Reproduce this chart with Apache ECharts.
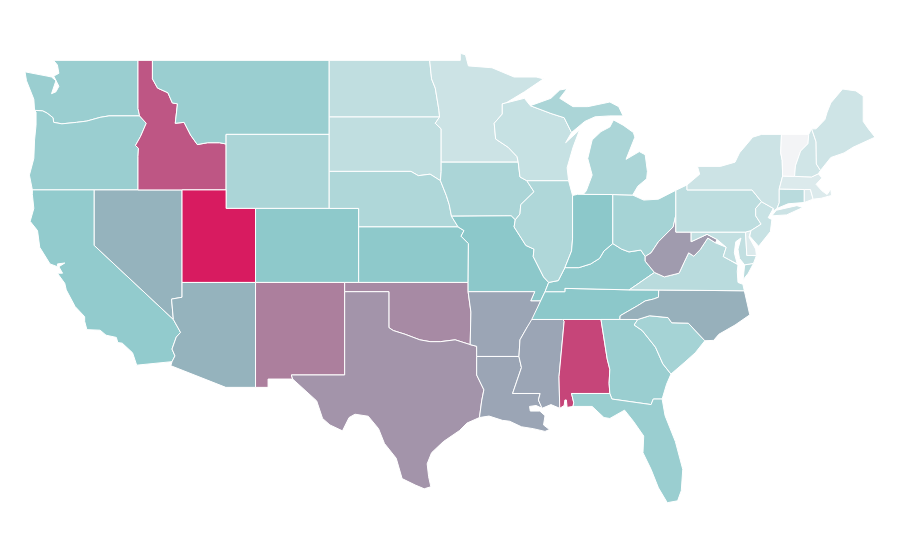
<!DOCTYPE html>
<html>
<head>
<meta charset="utf-8">
<style>html,body{margin:0;background:#fff}#main{width:900px;height:560px}</style>
<script src="https://cdn.jsdelivr.net/npm/echarts@6/dist/echarts.min.js"></script>
</head>
<body>
<div id="main"></div>
<script>
// state shapes are lon/lat outlines, hand simplified
var stateShapes = {
 Washington:[[[-117.03,49],[-122.76,49],[-122.5,48.75],[-122.4,48.3],[-122.75,48.15],[-122.4,47.6],[-122.6,47.3],[-122.9,47.2],[-122.6,47.9],[-122.9,48.1],[-123.2,48.15],[-124.7,48.38],[-124.6,47.9],[-124.1,46.9],[-124.05,46.3],[-123.5,46.27],[-123.2,46.15],[-122.8,45.9],[-122.75,45.65],[-122.2,45.57],[-121.2,45.65],[-120.5,45.72],[-119.6,45.92],[-119,46],[-116.92,46],[-117.03,46.4]]],
 Oregon:[[[-124.05,46.3],[-123.5,46.27],[-123.2,46.15],[-122.8,45.9],[-122.75,45.65],[-122.2,45.57],[-121.2,45.65],[-120.5,45.72],[-119.6,45.92],[-119,46],[-116.92,46],[-116.47,45.6],[-116.85,44.9],[-117.2,44.4],[-117,44.25],[-117.03,43.8],[-117.03,42],[-124.2,42],[-124.4,42.8],[-124.1,43.7],[-124.05,44.7],[-123.95,45.5],[-123.95,46.2]]],
 California:[[[-124.2,42],[-120,42],[-120,39],[-114.63,35],[-114.14,34.3],[-114.43,34.05],[-114.72,33.4],[-114.52,33.03],[-114.72,32.72],[-117.12,32.53],[-117.25,32.85],[-117.4,33.2],[-118.1,33.72],[-118.4,33.75],[-118.5,34.03],[-119.2,34.15],[-119.6,34.42],[-120.5,34.45],[-120.65,34.9],[-120.65,35.15],[-121.3,35.7],[-121.9,36.6],[-122,36.95],[-122.5,37.5],[-122.15,37.5],[-122.4,37.85],[-122,38.05],[-122.5,38],[-122.5,37.85],[-123,38],[-123.7,38.9],[-123.85,39.8],[-124.35,40.3],[-124.1,41],[-124.2,41.75]]],
 Nevada:[[[-120,42],[-114.04,42],[-114.04,36.2],[-114.75,36.1],[-114.63,35],[-120,39]]],
 Idaho:[[[-117.03,49],[-116.05,49],[-116.05,48],[-115.7,47.5],[-115,47.25],[-114.7,46.7],[-114.35,46.65],[-114.5,45.6],[-113.9,45.65],[-113.45,44.95],[-113,44.45],[-112.3,44.55],[-111.5,44.55],[-111.05,44.48],[-111.05,42],[-114.04,42],[-117.03,42],[-117.03,43.8],[-117,44.25],[-117.2,44.4],[-116.85,44.9],[-116.47,45.6],[-116.92,46],[-117.03,46.4]]],
 Montana:[[[-116.05,49],[-104.05,49],[-104.05,45],[-111.05,45],[-111.05,44.48],[-111.5,44.55],[-112.3,44.55],[-113,44.45],[-113.45,44.95],[-113.9,45.65],[-114.5,45.6],[-114.35,46.65],[-114.7,46.7],[-115,47.25],[-115.7,47.5],[-116.05,48]]],
 Wyoming:[[[-111.05,45],[-104.05,45],[-104.05,41],[-111.05,41]]],
 Utah:[[[-114.04,42],[-111.05,42],[-111.05,41],[-109.05,41],[-109.05,37],[-114.04,37]]],
 Arizona:[[[-114.04,37],[-109.05,37],[-109.05,31.33],[-111.07,31.33],[-114.8,32.5],[-114.72,32.72],[-114.52,33.03],[-114.72,33.4],[-114.43,34.05],[-114.14,34.3],[-114.63,35],[-114.75,36.1],[-114.04,36.2]]],
 Colorado:[[[-109.05,41],[-102.05,41],[-102.05,37],[-109.05,37]]],
 "New Mexico":[[[-109.05,37],[-103,37],[-103,32],[-106.62,32],[-106.53,31.78],[-108.2,31.78],[-108.2,31.33],[-109.05,31.33]]],
 "North Dakota":[[[-104.05,49],[-97.23,49],[-97.1,48],[-96.85,47.5],[-96.6,46.3],[-96.56,45.94],[-104.05,45.94]]],
 "South Dakota":[[[-104.05,45.94],[-96.56,45.94],[-96.85,45.6],[-96.45,45.3],[-96.45,43.5],[-96.45,43],[-96.5,42.5],[-97.2,42.85],[-98,42.77],[-98.5,43],[-104.05,43]]],
 Nebraska:[[[-104.05,43],[-98.5,43],[-98,42.77],[-97.2,42.85],[-96.5,42.5],[-96.1,41.7],[-95.9,41.2],[-95.75,40.58],[-95.3,40],[-102.05,40],[-102.05,41],[-104.05,41]]],
 Kansas:[[[-102.05,40],[-95.3,40],[-94.9,39.8],[-95.1,39.5],[-94.6,39.1],[-94.62,37],[-102.05,37]]],
 Oklahoma:[[[-103,37],[-94.62,37],[-94.62,36.5],[-94.43,35.4],[-94.48,33.64],[-95.5,33.9],[-96.5,33.8],[-97.2,33.8],[-97.9,33.9],[-98.9,34.2],[-99.7,34.4],[-100,34.56],[-100,36.5],[-103,36.5]]],
 Texas:[[[-106.62,32],[-103,32],[-103,36.5],[-100,36.5],[-100,34.56],[-99.7,34.4],[-98.9,34.2],[-97.9,33.9],[-97.2,33.8],[-96.5,33.8],[-95.5,33.9],[-94.48,33.64],[-94.04,33.55],[-94.04,33],[-94.04,32],[-93.55,31.2],[-93.7,30.6],[-93.85,29.7],[-94.7,29.4],[-95.2,29],[-96.3,28.4],[-97.1,27.8],[-97.4,27.2],[-97.3,26.5],[-97.15,25.96],[-97.6,25.85],[-98.2,26.05],[-99.1,26.4],[-99.5,27.5],[-100.3,28.3],[-100.7,29.1],[-101.4,29.77],[-102.3,29.88],[-102.7,29.7],[-103.15,28.98],[-104,29.3],[-104.5,29.65],[-104.9,30.6],[-106.53,31.78]]],
 Minnesota:[[[-97.23,49],[-95.15,49],[-95.15,49.38],[-94.8,49.3],[-94.6,48.7],[-93,48.6],[-91.5,48.1],[-90,48.1],[-89.5,48],[-90.8,47.3],[-92.05,46.7],[-92.3,46.65],[-92.3,46.1],[-92.85,45.6],[-92.75,44.75],[-91.9,44.3],[-91.3,43.8],[-91.22,43.5],[-96.45,43.5],[-96.45,45.3],[-96.85,45.6],[-96.56,45.94],[-96.6,46.3],[-96.85,47.5],[-97.1,48]]],
 Iowa:[[[-96.45,43.5],[-91.22,43.5],[-91.1,42.7],[-90.64,42.5],[-90.15,41.9],[-91.05,41.2],[-91.1,40.7],[-91.42,40.38],[-91.7,40.6],[-95.75,40.58],[-95.9,41.2],[-96.1,41.7],[-96.5,42.5],[-96.45,43]]],
 Missouri:[[[-95.75,40.58],[-91.7,40.6],[-91.42,40.38],[-91.5,40],[-90.7,39],[-90.15,38.8],[-90.2,38.4],[-89.5,37.3],[-89.15,37],[-89.4,36.5],[-89.7,36],[-90.37,36],[-90.1,36.5],[-94.62,36.5],[-94.62,37],[-94.6,39.1],[-95.1,39.5],[-94.9,39.8],[-95.3,40]]],
 Arkansas:[[[-94.62,36.5],[-90.1,36.5],[-90.37,36],[-89.7,36],[-90.1,35.1],[-90.6,34.6],[-91.1,33.9],[-91.17,33],[-94.04,33],[-94.04,33.55],[-94.48,33.64],[-94.43,35.4]]],
 Louisiana:[[[-94.04,33],[-91.17,33],[-91,32.4],[-91.6,31],[-89.73,31],[-89.85,30.65],[-89.6,30.2],[-90,30.35],[-90.45,30.3],[-90.4,30.05],[-89.75,30.05],[-89.4,29.8],[-89.5,29.3],[-89.1,29.05],[-89.4,28.95],[-90.2,29.1],[-91,29.2],[-91.8,29.5],[-92.3,29.55],[-93.2,29.78],[-93.85,29.7],[-93.7,30.6],[-93.55,31.2],[-94.04,32]]],
 Mississippi:[[[-91.17,33],[-91.1,33.9],[-90.6,34.6],[-90.3,35],[-88.2,35],[-88.1,34.9],[-88.45,31.9],[-88.4,30.2],[-89,30.4],[-89.6,30.2],[-89.85,30.65],[-89.73,31],[-91.6,31],[-91,32.4]]],
 Alabama:[[[-88.2,35],[-85.6,35],[-85.18,32.87],[-85,32.3],[-85.05,31.55],[-85,31],[-87.6,31],[-87.45,30.5],[-87.5,30.3],[-87.9,30.25],[-87.95,30.65],[-88.05,30.65],[-88.1,30.35],[-88.4,30.2],[-88.45,31.9],[-88.1,34.9]]],
 Tennessee:[[[-90.3,35],[-89.7,36],[-89.4,36.5],[-88.05,36.5],[-88.05,36.68],[-83.68,36.6],[-81.68,36.59],[-81.7,36.2],[-82.05,36.1],[-82.6,36],[-83.1,35.75],[-84.3,35.2],[-84.32,35],[-88.2,35]]],
 Kentucky:[[[-89.4,36.5],[-89.15,37],[-88.5,37.1],[-88.05,37.8],[-87.1,37.8],[-86.3,38],[-85.7,38.3],[-85.4,38.7],[-84.8,39.1],[-84.2,38.8],[-83.7,38.65],[-82.9,38.75],[-82.6,38.4],[-82.6,38.15],[-81.97,37.54],[-83.68,36.6],[-88.05,36.68],[-88.05,36.5]]],
 Illinois:[[[-91.42,40.38],[-91.1,40.7],[-91.05,41.2],[-90.15,41.9],[-90.64,42.5],[-87.8,42.5],[-87.53,41.7],[-87.53,39.35],[-87.6,38.7],[-88.05,37.8],[-88.5,37.1],[-89.15,37],[-89.5,37.3],[-90.2,38.4],[-90.15,38.8],[-90.7,39],[-91.5,40]]],
 Indiana:[[[-87.53,41.7],[-87.2,41.76],[-86.8,41.76],[-84.8,41.75],[-84.8,39.1],[-85.4,38.7],[-85.7,38.3],[-86.3,38],[-87.1,37.8],[-88.05,37.8],[-87.6,38.7],[-87.53,39.35]]],
 Ohio:[[[-84.8,41.75],[-83.45,41.72],[-82.7,41.45],[-81.7,41.5],[-80.52,41.98],[-80.52,40.64],[-80.7,40],[-81.7,39.2],[-82.2,38.6],[-82.6,38.4],[-82.9,38.75],[-83.7,38.65],[-84.2,38.8],[-84.8,39.1]]],
 Wisconsin:[[[-92.05,46.7],[-90.8,46.95],[-90.4,46.55],[-89,46.13],[-88.1,45.9],[-87.6,45.1],[-88,44.55],[-87.05,45.25],[-87.5,44.3],[-87.9,43.2],[-87.8,42.5],[-90.64,42.5],[-91.1,42.7],[-91.22,43.5],[-91.3,43.8],[-91.9,44.3],[-92.75,44.75],[-92.85,45.6],[-92.3,46.1],[-92.3,46.65]]],
 Michigan:[[[-86.8,41.76],[-84.8,41.75],[-83.45,41.72],[-83.1,42.2],[-82.5,42.6],[-82.45,43],[-82.6,43.9],[-83,44.07],[-83.9,43.65],[-83.3,44.85],[-83.4,45.1],[-84.1,45.5],[-84.75,45.78],[-85,45.4],[-85.6,45.15],[-86.2,44.7],[-86.5,43.7],[-86.2,42.8],[-86.6,41.95]],[[-90.4,46.55],[-89,46.95],[-88.4,47.4],[-87.9,47.47],[-88.4,46.95],[-87.5,46.5],[-86.5,46.5],[-85,46.75],[-84.4,46.5],[-84.1,46],[-85,46],[-86,45.95],[-86.7,45.7],[-87.6,45.1],[-88.1,45.9],[-89,46.13]]],
 Georgia:[[[-85.6,35],[-84.32,35],[-83.1,35],[-83.35,34.7],[-82.8,34.4],[-81.9,33.5],[-81.4,32.6],[-80.85,32.05],[-81.15,31.5],[-81.45,30.7],[-82.05,30.7],[-82.2,30.4],[-84.86,30.7],[-85,31],[-85.05,31.55],[-85,32.3],[-85.18,32.87]]],
 Florida:[[[-87.6,31],[-85,31],[-84.86,30.7],[-82.2,30.4],[-82.05,30.7],[-81.45,30.7],[-81.25,29.8],[-80.55,28.4],[-80.05,26.9],[-80.15,25.75],[-80.4,25.2],[-81.1,25.1],[-81.7,25.9],[-82.2,26.9],[-82.75,27.8],[-82.7,28.7],[-83.4,29.5],[-84,30.1],[-85,29.65],[-85.4,29.7],[-86.2,30.3],[-87.5,30.3],[-87.45,30.5]]],
 "South Carolina":[[[-83.1,35],[-82.3,35.2],[-81.05,35.1],[-80.8,34.82],[-79.67,34.8],[-78.55,33.85],[-79.2,33.2],[-79.9,32.7],[-80.85,32.05],[-81.4,32.6],[-81.9,33.5],[-82.8,34.4],[-83.35,34.7]]],
 "North Carolina":[[[-84.32,35],[-84.3,35.2],[-83.1,35.75],[-82.6,36],[-82.05,36.1],[-81.7,36.2],[-81.68,36.59],[-75.87,36.55],[-75.5,35.25],[-76.5,34.7],[-77.6,34.2],[-77.95,33.87],[-78.55,33.85],[-79.67,34.8],[-80.8,34.82],[-81.05,35.1],[-82.3,35.2],[-83.1,35]]],
 Virginia:[[[-83.68,36.6],[-81.97,37.54],[-81.3,37.3],[-80.3,37.5],[-79.95,38.1],[-79.65,38.6],[-79.3,38.42],[-78.87,38.77],[-78.35,39.4],[-77.83,39.14],[-77.1,38.9],[-77.3,38.4],[-76.95,38.25],[-76.3,37.95],[-76.35,37.6],[-76.3,37],[-75.97,36.9],[-75.87,36.55],[-81.68,36.59]],[[-75.95,37.15],[-75.85,37.95],[-75.25,38.03],[-75.6,37.5]]],
 "West Virginia":[[[-82.6,38.15],[-82.6,38.4],[-82.2,38.6],[-81.7,39.2],[-80.7,40],[-80.52,40.64],[-80.52,39.72],[-79.48,39.72],[-79.48,39.2],[-78.4,39.6],[-77.72,39.32],[-77.83,39.14],[-78.35,39.4],[-78.87,38.77],[-79.3,38.42],[-79.65,38.6],[-79.95,38.1],[-80.3,37.5],[-81.3,37.3],[-81.97,37.54]]],
 Maryland:[[[-79.48,39.72],[-75.79,39.72],[-75.7,38.46],[-75.05,38.45],[-75.25,38.03],[-75.85,37.95],[-76.2,38.3],[-76.3,38.8],[-76.1,39.4],[-76.45,39.2],[-76.55,38.6],[-76.35,38],[-76.95,38.25],[-77.3,38.4],[-77.1,38.9],[-77.72,39.32],[-78.4,39.6],[-79.48,39.2]]],
 Delaware:[[[-75.79,39.72],[-75.42,39.8],[-75.55,39.45],[-75.1,38.8],[-75.05,38.45],[-75.7,38.46]]],
 Pennsylvania:[[[-80.52,41.98],[-79.76,42.27],[-79.76,42],[-75.35,42],[-74.7,41.36],[-75.1,41],[-75.1,40.6],[-74.73,40.15],[-75.42,39.8],[-75.79,39.72],[-80.52,39.72]]],
 "New Jersey":[[[-74.7,41.36],[-73.9,41],[-74.25,40.5],[-74,40.4],[-74.1,39.75],[-74.9,38.95],[-75.5,39.5],[-75.42,39.8],[-74.73,40.15],[-75.1,40.6],[-75.1,41]]],
 "New York":[[[-79.76,42],[-79.76,42.27],[-78.9,42.85],[-79.05,43.27],[-77.5,43.27],[-76.5,43.5],[-76.2,44],[-75.3,44.85],[-74.7,45],[-73.35,45],[-73.4,44],[-73.3,43.6],[-73.27,42.75],[-73.5,42.05],[-73.5,41.3],[-73.65,41],[-73.9,40.85],[-73.9,41],[-74.7,41.36],[-75.35,42]],[[-74,40.6],[-73.7,40.9],[-72.3,41.15],[-71.9,41.05],[-73,40.65]]],
 Connecticut:[[[-73.5,42.05],[-71.8,42.02],[-71.8,41.32],[-72.9,41.25],[-73.65,41],[-73.5,41.3]]],
 "Rhode Island":[[[-71.8,42.02],[-71.38,42.02],[-71.2,41.5],[-71.8,41.32]]],
 Massachusetts:[[[-73.5,42.05],[-73.27,42.75],[-72.46,42.73],[-71.3,42.7],[-70.85,42.87],[-70.6,42.65],[-71,42.3],[-70.6,41.95],[-70.25,41.75],[-70,42.05],[-69.95,41.7],[-70.65,41.55],[-71.2,41.5],[-71.38,42.02],[-71.8,42.02]]],
 Vermont:[[[-73.35,45],[-71.5,45],[-71.55,44.5],[-72.05,44.1],[-72.4,43.3],[-72.46,42.73],[-73.27,42.75],[-73.3,43.6],[-73.4,44]]],
 "New Hampshire":[[[-71.5,45],[-71.3,45.3],[-71,44.6],[-70.98,43.4],[-70.7,43.05],[-70.85,42.87],[-71.3,42.7],[-72.46,42.73],[-72.4,43.3],[-72.05,44.1],[-71.55,44.5]]],
 Maine:[[[-71.3,45.3],[-71,45.3],[-70.4,45.8],[-70.25,46.2],[-70,46.7],[-69.2,47.45],[-68.3,47.35],[-67.8,47.07],[-67.8,45.7],[-67.45,45.3],[-67,44.85],[-68.5,44.3],[-69.1,44],[-70,43.75],[-70.7,43.05],[-70.98,43.4],[-71,44.6]]]
};

var stateNames = ["Washington","Oregon","California","Nevada","Idaho","Montana","Wyoming","Utah","Arizona","Colorado","New Mexico","North Dakota","South Dakota","Nebraska","Kansas","Oklahoma","Texas","Minnesota","Iowa","Missouri","Arkansas","Louisiana","Mississippi","Alabama","Tennessee","Kentucky","Illinois","Indiana","Ohio","Wisconsin","Michigan","Georgia","Florida","South Carolina","North Carolina","Virginia","West Virginia","Maryland","Delaware","Pennsylvania","New Jersey","New York","Connecticut","Rhode Island","Massachusetts","Vermont","New Hampshire","Maine"];
var stateValues = [43,43,47,56,83,43,35,100,56,49,71,25,25,33,49,68,65,19,35,50,60,60,60,88,50,48,33,50,38,22,35,43,43,38,57,28,63,24,11,26,21,19,28,11,11,0,17,18];
var colorStops = ["#f3f4f6","#8cc8ca","#d81b60"];

var features = [];
for (var name in stateShapes) {
  features.push({
    type: "Feature",
    properties: { name: name },
    geometry: {
      type: "MultiPolygon",
      coordinates: stateShapes[name].map(function (ring) {
        return [ring.concat([ring[0]])];
      })
    }
  });
}
echarts.registerMap("USA", { type: "FeatureCollection", features: features });

var myChart = echarts.init(document.getElementById("main"));
myChart.setOption({
  animation: false,
  visualMap: { show: false, min: 0, max: 100, inRange: { color: colorStops } },
  series: [{
    type: "map",
    map: "USA",
    roam: false,
    aspectScale: 0.796,
    layoutCenter: [450, 278],
    layoutSize: 850,
    label: { show: false },
    silent: true,
    itemStyle: { borderColor: "#fff", borderWidth: 1 },
    data: stateNames.map(function (n, i) {
      return { name: n, value: stateValues[i] };
    })
  }]
});
</script>
</body>
</html>
